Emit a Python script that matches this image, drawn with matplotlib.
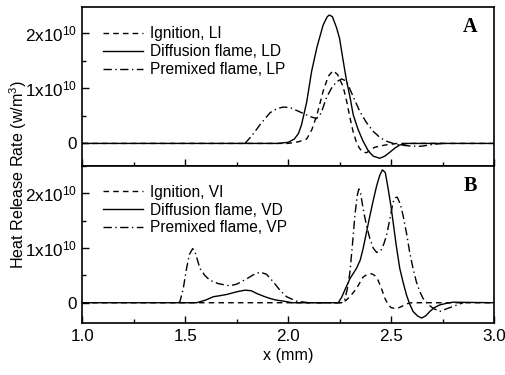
import numpy as np
import matplotlib as mp
import matplotlib.pyplot as plt
from matplotlib.ticker import FixedLocator, FixedFormatter, MultipleLocator

mp.rcParams['font.family'] = 'Liberation Sans'
mp.rcParams['mathtext.fontset'] = 'custom'
mp.rcParams['mathtext.rm'] = 'Liberation Sans'
mp.rcParams['mathtext.it'] = 'Liberation Sans'
mp.rcParams.update({'font.size': 12.3})

# Panel A (values in units of 1e10 W/m^3)
LI_x = [1.0, 2.0, 2.05, 2.09, 2.115, 2.14, 2.17, 2.195, 2.218, 2.24, 2.267, 2.285, 2.30,
        2.315, 2.33, 2.345, 2.36, 2.38, 2.40, 2.42, 2.47, 2.53, 3.0]
LI_y = [0, 0, 0.03, 0.08, 0.25, 0.52, 0.95, 1.22, 1.32, 1.25, 1.03, 0.75, 0.47,
        0.22, 0.04, -0.08, -0.15, -0.17, -0.12, -0.07, -0.03, 0, 0]

LD_x = [1.0, 1.95, 2.0, 2.03, 2.05, 2.065, 2.09, 2.114, 2.14, 2.17, 2.19, 2.20, 2.215,
        2.235, 2.25, 2.265, 2.283, 2.30, 2.316, 2.34, 2.364, 2.39, 2.413, 2.445, 2.47,
        2.494, 2.52, 2.542, 2.58, 3.0]
LD_y = [0, 0, 0.02, 0.08, 0.18, 0.34, 0.75, 1.31, 1.75, 2.15, 2.3, 2.33, 2.3,
        2.1, 1.9, 1.55, 1.15, 0.85, 0.52, 0.25, 0.04, -0.14, -0.23, -0.27, -0.23,
        -0.16, -0.08, -0.03, 0, 0]

LP_x = [1.79, 1.814, 1.84, 1.863, 1.89, 1.913, 1.945, 1.976, 2.01, 2.04, 2.07, 2.105,
        2.138, 2.16, 2.186, 2.21, 2.235, 2.26, 2.283, 2.31, 2.348, 2.38, 2.413, 2.445,
        2.478, 2.526, 2.6, 2.65, 2.7, 2.75]
LP_y = [0, 0.1, 0.22, 0.34, 0.46, 0.56, 0.63, 0.66, 0.65, 0.6, 0.55, 0.49,
        0.45, 0.55, 0.83, 1.0, 1.12, 1.17, 1.13, 0.9, 0.58, 0.38, 0.22, 0.11,
        0.04, -0.02, -0.05, -0.05, -0.02, 0]

# Panel B
VI_x = [1.0, 2.25, 2.28, 2.30, 2.332, 2.364, 2.385, 2.405, 2.42, 2.437, 2.455, 2.47,
        2.485, 2.50, 2.526, 2.55, 2.575, 2.6, 3.0]
VI_y = [0, 0, 0.04, 0.11, 0.26, 0.47, 0.52, 0.53, 0.5, 0.41, 0.24, 0.08,
        -0.03, -0.09, -0.11, -0.07, -0.02, 0, 0]

VD_x = [1.0, 1.555, 1.6, 1.636, 1.67, 1.70, 1.75, 1.79, 1.82, 1.847, 1.88, 1.91, 1.94,
        1.976, 2.02, 2.243, 2.26, 2.275, 2.30, 2.332, 2.35, 2.364, 2.38, 2.397, 2.415,
        2.43, 2.445, 2.458, 2.472, 2.486, 2.50, 2.51, 2.525, 2.542, 2.56, 2.575, 2.59,
        2.607, 2.628, 2.648, 2.668, 2.688, 2.71, 2.736, 2.77, 2.80, 3.0]
VD_y = [0, 0, 0.05, 0.11, 0.13, 0.15, 0.2, 0.23, 0.22, 0.17, 0.12, 0.08, 0.05,
        0.03, 0, 0, 0.1, 0.23, 0.44, 0.63, 0.78, 0.99, 1.28, 1.59, 1.9,
        2.14, 2.33, 2.43, 2.38, 2.08, 1.75, 1.47, 1.05, 0.63, 0.35, 0.14, -0.02,
        -0.16, -0.24, -0.28, -0.24, -0.16, -0.09, -0.04, -0.01, 0.01, 0]

VP_x = [1.466, 1.474, 1.49, 1.505, 1.52, 1.536, 1.55, 1.571, 1.595, 1.62, 1.66, 1.70,
        1.717, 1.75, 1.78, 1.80, 1.83, 1.863, 1.895, 1.928, 1.96, 1.992, 2.04, 2.1,
        2.26, 2.275, 2.29, 2.30, 2.312, 2.324, 2.335, 2.343, 2.352, 2.364, 2.38, 2.397,
        2.413, 2.43, 2.45, 2.465, 2.478, 2.495, 2.51, 2.52, 2.53, 2.545, 2.558, 2.575,
        2.59, 2.607, 2.623, 2.64, 2.655, 2.68, 2.704, 2.736, 2.77, 2.80, 2.85]
VP_y = [0, 0.02, 0.25, 0.6, 0.88, 0.99, 0.9, 0.63, 0.5, 0.41, 0.35, 0.32,
        0.31, 0.34, 0.4, 0.44, 0.51, 0.56, 0.52, 0.38, 0.23, 0.11, 0.03, 0,
        0, 0.05, 0.3, 0.56, 1.05, 1.59, 1.95, 2.08, 2.0, 1.72, 1.42, 1.17,
        1.0, 0.92, 0.95, 1.08, 1.23, 1.55, 1.84, 1.92, 1.93, 1.8, 1.6, 1.27,
        0.93, 0.62, 0.38, 0.2, 0.08, -0.03, -0.1, -0.16, -0.11, -0.07, 0]

labels_A = ['Ignition, LI', 'Diffusion flame, LD', 'Premixed flame, LP']
labels_B = ['Ignition, VI', 'Diffusion flame, VD', 'Premixed flame, VP']
ytick_vals = [0, 1e10, 2e10]
ytick_txt = ['0', '1x10$^{10}$', '2x10$^{10}$']

fig = plt.figure(figsize=(5.06, 3.75), dpi=100)
axA = fig.add_axes([0.1627, 0.5573, 0.8136, 0.4232])
axB = fig.add_axes([0.1627, 0.138, 0.8136, 0.4193])

styles = [dict(ls=(0, (4, 3))), dict(ls='-'), dict(ls=(0, (6, 2.5, 1, 2.5)))]
sc = 1e10


def panel(ax, series, labels, letter, ylim):
    for (xs, ys), st, lab in zip(series, styles, labels):
        ax.plot(xs, np.array(ys) * sc, color='black', lw=1.0, label=lab, **st)
    ax.set_xlim(1.0, 3.0)
    ax.set_ylim(ylim[0] * sc, ylim[1] * sc)
    ax.yaxis.set_major_locator(FixedLocator(ytick_vals))
    ax.yaxis.set_major_formatter(FixedFormatter(ytick_txt))
    ax.yaxis.set_minor_locator(MultipleLocator(0.5e10))
    ax.xaxis.set_major_locator(MultipleLocator(0.5))
    ax.xaxis.set_minor_locator(MultipleLocator(0.25))
    ax.tick_params(which='both', direction='in', top=False, right=False, width=1.0)
    ax.tick_params(which='major', length=5, pad=4)
    ax.tick_params(which='minor', length=3)
    for s in ax.spines.values():
        s.set_linewidth(1.2)
    ax.legend(loc='upper left', bbox_to_anchor=(0.05, 0.88), frameon=False,
              borderpad=0, borderaxespad=0, handlelength=2.55, handletextpad=0.45,
              labelspacing=0.18, fontsize=11.2)
    ax.text(0.942, 0.875, letter, transform=ax.transAxes, ha='center', va='center',
            fontsize=14.5, fontweight='bold', family='Liberation Serif')


panel(axA, [(LI_x, LI_y), (LD_x, LD_y), (LP_x, LP_y)], labels_A, 'A', (-0.41, 2.47))
panel(axB, [(VI_x, VI_y), (VD_x, VD_y), (VP_x, VP_y)], labels_B, 'B', (-0.375, 2.5))
axA.tick_params(labelbottom=False)
axB.set_xlabel('x (mm)', labelpad=3, fontsize=11.6)
fig.text(0.036, 0.536, 'Heat Release Rate (w/m$^3$)', rotation=90, ha='center', va='center',
         fontsize=11.6)

fig.savefig('out.png', dpi=100)
